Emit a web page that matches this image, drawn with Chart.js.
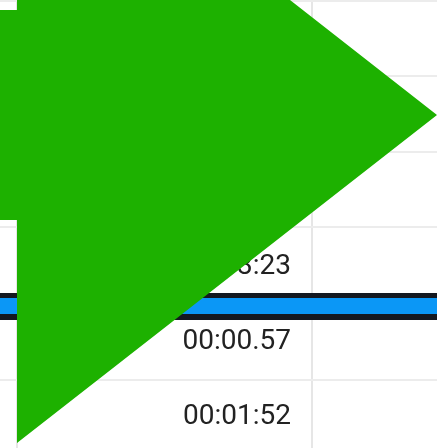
<!DOCTYPE html>
<html>
<head>
<meta charset="utf-8">
<script src="https://cdn.jsdelivr.net/npm/chart.js@4"></script>
<style>
  html, body { margin: 0; padding: 0; background: #fff; overflow: hidden; }
  #wrap { width: 437px; height: 448px; }
</style>
</head>
<body>
<div id="wrap"><canvas id="shot"></canvas></div>
<script>
// arrow outline (x, y in picture pixels, y down)
const arrowX = [0, 17, 17, 290, 437, 17, 17, 0, 0];
const arrowY = [10, 10, 0, 0, 115, 443, 220, 220, 10];

// spreadsheet rows and column lines
const rowLines = [1, 76, 152, 227, 380];
const colLines = [16.5, 312];
const selectedRow = 306;

// cell texts
const cellTexts = ['00:03:23', '00:00.57', '00:01:52'];
const cellRows = [267, 342, 417];
const cellRight = 291;

const arrowPoints = arrowX.map((x, i) => ({ x: x, y: arrowY[i] }));

// texts go under the arrow
const cellTextPlugin = {
    id: 'cellText',
    beforeDatasetsDraw(chart) {
        const ctx = chart.ctx;
        const xs = chart.scales.x;
        const ys = chart.scales.y;
        ctx.save();
        ctx.font = '28px Roboto';
        ctx.fillStyle = '#222';
        ctx.textAlign = 'right';
        ctx.textBaseline = 'middle';
        cellTexts.forEach((t, i) => {
            ctx.fillText(t, xs.getPixelForValue(cellRight), ys.getPixelForValue(cellRows[i]));
        });
        ctx.restore();
    }
};

new Chart(document.getElementById('shot'), {
    type: 'scatter',
    data: {
        datasets: [
            {
                label: 'arrow',
                data: arrowPoints,
                showLine: true,
                fill: 'shape',
                backgroundColor: '#1db100',
                borderColor: '#1db100',
                borderWidth: 0,
                pointRadius: 0,
                tension: 0
            },
            {
                label: 'selection',
                data: [{ x: 0, y: selectedRow }, { x: 437, y: selectedRow }],
                showLine: true,
                borderColor: '#0b97f6',
                borderWidth: 16,
                pointRadius: 0
            },
            {
                label: 'selection border',
                data: [{ x: 0, y: selectedRow + 0.5 }, { x: 437, y: selectedRow + 0.5 }],
                showLine: true,
                borderColor: '#141820',
                borderWidth: 27,
                pointRadius: 0
            }
        ]
    },
    options: {
        responsive: true,
        maintainAspectRatio: false,
        animation: false,
        layout: { padding: 0 },
        plugins: {
            legend: { display: false },
            tooltip: { enabled: false }
        },
        scales: {
            x: {
                type: 'linear',
                min: 0,
                max: 437,
                border: { display: false },
                ticks: { display: false },
                grid: { color: '#e6e6e6', lineWidth: 2, drawTicks: false },
                afterBuildTicks: (scale) => {
                    scale.ticks = colLines.map(v => ({ value: v }));
                }
            },
            y: {
                type: 'linear',
                min: 0,
                max: 448,
                reverse: true,
                border: { display: false },
                ticks: { display: false },
                grid: { color: '#ececec', lineWidth: 2, drawTicks: false },
                afterBuildTicks: (scale) => {
                    scale.ticks = rowLines.map(v => ({ value: v }));
                }
            }
        }
    },
    plugins: [cellTextPlugin]
});
</script>
</body>
</html>
